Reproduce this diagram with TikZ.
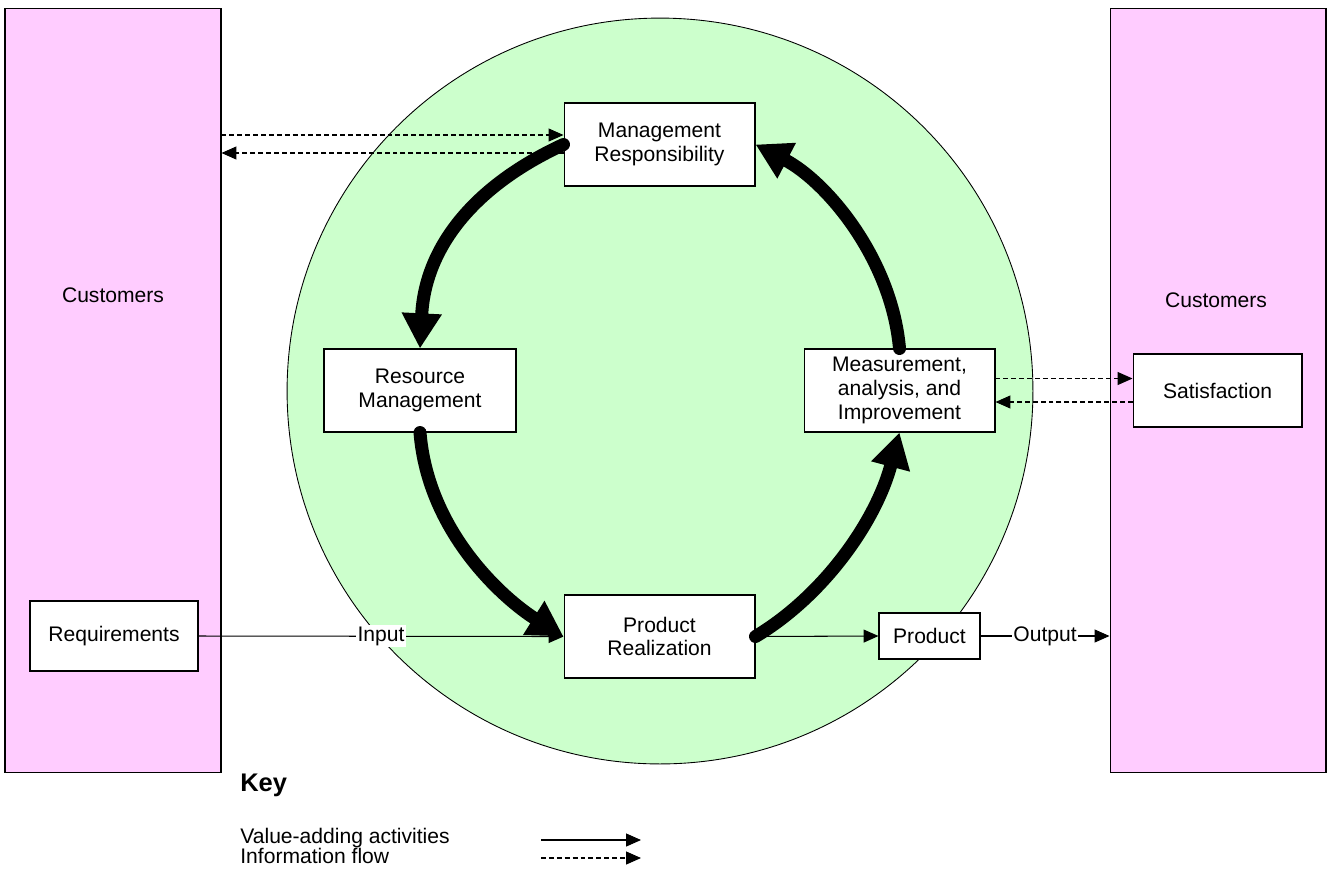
\documentclass[tikz,border=0pt]{standalone}
\usepackage{fontspec}
\setmainfont{Liberation Sans}
\usepackage{tikz}
\usetikzlibrary{arrows.meta,calc}
\definecolor{barpink}{HTML}{FFCCFF}
\definecolor{loopgreen}{HTML}{CCFFCC}

\begin{document}
\begin{tikzpicture}[x=0.02cm, y=-0.02cm, font=\fontsize{12pt}{13.6pt}\selectfont,
  bar/.style={draw, line width=0.6pt, fill=barpink, minimum width=4.32cm, minimum height=15.3cm, inner sep=0pt},
  procbox/.style={draw, line width=0.6pt, fill=white, minimum width=3.82cm, minimum height=1.66cm, inner sep=0pt, align=center},
  valueflow/.style={line width=0.6pt, -{Triangle[length=8.5pt,width=7.4pt]}},
  infoflow/.style={valueflow, dash pattern=on 2.8pt off 1.7pt},
  cyclearrow/.style={line width=7.4pt, line cap=round, -{Triangle[length=20pt,width=21.5pt]}}]
\useasboundingbox (0,0) rectangle (1334,873);
% customers on both sides, quality loop in the middle
\node[bar] (custL) at (113,390.5) {};
\node[bar] (custR) at (1218,390.5) {};
\node (custLtxt) at (113,295) {Customers};
\node (custRtxt) at (1216,300) {Customers};
\filldraw[fill=loopgreen, line width=0.5pt] (660,391) circle [radius=7.46cm];

\node[procbox] (mgmt) at (659.5,144.5) {Management\\Responsibility};
\node[procbox, minimum width=3.84cm] (res) at (420,390.5) {Resource\\Management};
\node[procbox] (meas) at (899.5,390.5) {Measurement,\\analysis, and\\Improvement};
\node[procbox] (prodr) at (659.5,636.5) {Product\\Realization};
\node[procbox, minimum width=3.38cm, minimum height=1.46cm] (sat) at (1217.5,390.5) {Satisfaction};
\node[procbox, minimum width=3.36cm, minimum height=1.4cm] (req) at (114,636) {Requirements};
\node[procbox, minimum width=2.02cm, minimum height=0.92cm] (prod) at (929.5,636) {Product};

% information flow
\coordinate (mgIn) at ([yshift=0.19cm]mgmt.west);
\coordinate (mgOut) at ([yshift=-0.17cm]mgmt.west);
\draw[infoflow] (custL.east |- mgIn) -- (mgIn);
\draw[infoflow] (mgOut) -- (custL.east |- mgOut);
\coordinate (msOut) at ([yshift=0.24cm]meas.east);
\coordinate (msIn) at ([yshift=-0.23cm]meas.east);
\draw[infoflow] (msOut) -- (sat.west |- msOut);
\draw[infoflow] (sat.west |- msIn) -- (msIn);

% value-adding activities
\draw[valueflow] (req.east) -- node[fill=white, inner sep=1pt] (inlbl) {Input} (prodr.west);
\draw[valueflow] (prodr.east) -- (prod.west);
\draw[valueflow] (prod.east) -- node[fill=white, inner sep=1pt] (outlbl) {Output} (custR.west |- prod.east);

% improvement cycle
\draw[cyclearrow] (mgmt.west) .. controls +(-91,42) and +(5,-100) .. (res.north);
\draw[cyclearrow] (res.south) .. controls +(8,100) and +(-59,-37) .. (prodr.west);
\draw[cyclearrow] (prodr.east) .. controls +(70,-42) and +(-23,87) .. (meas.south);
\draw[cyclearrow] (meas.north) .. controls +(-8,-90) and +(71,37) .. (mgmt.east);

% key
\node[anchor=west, inner sep=0pt, font=\fontsize{14.5pt}{17pt}\selectfont\bfseries] (key) at (240,785) {Key};
\node[anchor=west, inner sep=0pt] (kvalue) at (240,838) {Value-adding activities};
\node[anchor=west, inner sep=0pt] (kinfo) at (240,856) {Information flow};
\coordinate (kv1) at (541,840);
\coordinate (kv2) at (641,840);
\draw[valueflow] (kv1) -- (kv2);
\coordinate (ki1) at (541,858);
\coordinate (ki2) at (641,858);
\draw[infoflow] (ki1) -- (ki2);
\end{tikzpicture}
\end{document}
